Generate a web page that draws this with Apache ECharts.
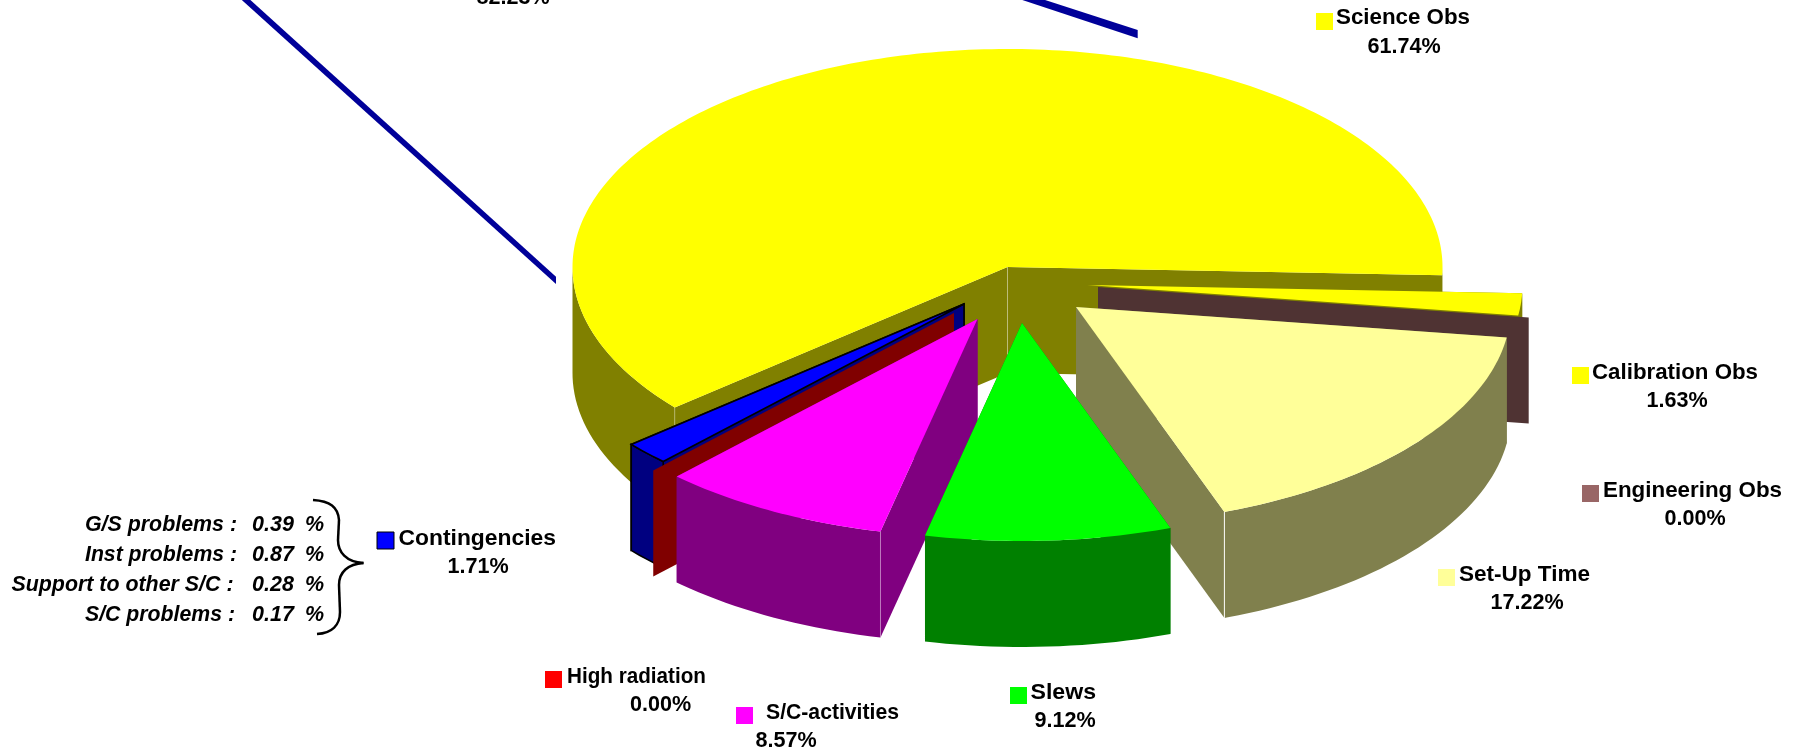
<!DOCTYPE html>
<html>
<head>
<meta charset="utf-8">
<style>html,body{margin:0;padding:0;background:#fff;overflow:hidden}#c{width:1800px;height:752px}</style>
<script src="https://cdn.jsdelivr.net/npm/echarts@6/dist/echarts.min.js"></script>
</head>
<body>
<div id="c"></div>
<script>
// ---- values ----
const categories = ['Science Obs','Calibration Obs','Engineering Obs','Set-Up Time','Slews','S/C-activities','High radiation','Contingencies'];
const percents   = [61.74, 1.63, 0.00, 17.22, 9.12, 8.57, 0.00, 1.71];
const contingencyParts  = ['G/S problems :','Inst problems :','Support to other S/C :','S/C problems :'];
const contingencyValues = [0.39, 0.87, 0.28, 0.17];
const upperPercent = 82.23;

// ---- styles ----
const topColors  = ['#ffff00','#ffff00','#996666','#ffff99','#00ff00','#ff00ff','#ff0000','#0000ff'];
const wallColors = ['#808000','#808000','#4f3333','#80804d','#008000','#800080','#800000','#000080'];

// ---- layout of the 3D pie ----
const pie = {cx:1007.5, cy:267, rx:435, ry:218, depth:106, start:139.9};
const explode = [[0,0],[80,18],[90.5,20],[68.5,40],[14.5,56],[-30,52],[-53.5,46],[-43.5,37]];
const drawOrder = [0,1,2,7,6,5,3,4];
const creases = {0:[['apex',.3],['a0',.3]],3:[['a1',.95]],5:[['a0',.3]]};
const outlined = {7:true};
// swatch x,y | name left,right,y | percent centre x,y
const labelLayout = [
  [1316,13, 1336,1470,18,  1404,47],
  [1572,367,1592,1758,373, 1677,401],
  [1582,485,1603,1782,491, 1695,519],
  [1438,569,1459,1590,575, 1527,603],
  [1010,687,1030.5,1096,693, 1065,721],
  [736,707, 766,899,713,   786,741],
  [545,671, 567,706,677,   660.5,705],
  [377,532, 398.5,556,539, 478,567]
];
const FONT = '"Liberation Sans", Arial, sans-serif';
const probe = document.createElement('canvas').getContext('2d');
function stretch(text, size, weight, style, target){
  probe.font = (style||'normal')+' '+weight+' '+size+'px "Liberation Sans"';
  return target / probe.measureText(text).width;
}

// angles follow the values
const total = percents.reduce((a,b)=>a+b,0);
const angles = []; let run = pie.start;
percents.forEach(p=>{
  let a0=run; run += p/total*360;
  let a1=run;
  if(a0>=360){ a0-=360; a1-=360; }
  angles.push([a0,a1]);
});

function rim(i, deg, dz){
  const r = deg*Math.PI/180;
  return [pie.cx+explode[i][0]+pie.rx*Math.cos(r), pie.cy+explode[i][1]+pie.ry*Math.sin(r)+(dz||0)];
}
function apex(i, dz){ return [pie.cx+explode[i][0], pie.cy+explode[i][1]+(dz||0)]; }

function renderSlice(params, api){
  const i = drawOrder[params.dataIndex];
  const [a0,a1] = angles[i], d = pie.depth;
  const kids = [];
  const stroke = outlined[i] ? {stroke:'#000',lineWidth:1.6} : {stroke:null};
  const wall = {fill:wallColors[i], ...stroke};
  const radial = a => ({type:'polygon',shape:{points:[apex(i),rim(i,a),rim(i,a,d),apex(i,d)]},style:wall});
  kids.push(radial(a0)); if(a1>a0) kids.push(radial(a1));
  if(a1>a0){
    // outer wall: only the front half of the ellipse is seen
    const ranges = a1>360 ? [[a0,180],[360,a1]] : [[a0,Math.min(a1,180)]];
    ranges.forEach(([s,e])=>{
      if(e<=s) return;
      const pts=[]; for(let a=s;a<e;a+=1.5) pts.push(rim(i,a)); pts.push(rim(i,e));
      const low=pts.map(p=>[p[0],p[1]+d]).reverse();
      kids.push({type:'polygon',shape:{points:pts.concat(low)},style:wall});
    });
    const top=[apex(i)]; for(let a=a0;a<a1;a+=1) top.push(rim(i,a)); top.push(rim(i,a1));
    kids.push({type:'polygon',shape:{points:top},style:{fill:topColors[i],...stroke}});
  }
  (creases[i]||[]).forEach(([w,o])=>{
    const p = w==='apex'?apex(i):rim(i,w==='a0'?a0:a1);
    kids.push({type:'line',shape:{x1:p[0],y1:p[1],x2:p[0],y2:p[1]+d},style:{stroke:'rgba(255,255,255,'+o+')',lineWidth:1}});
  });
  return {type:'group',children:kids};
}

function renderLabel(params, api){
  const i = params.dataIndex, L = labelLayout[i];
  const name = categories[i], pct = percents[i].toFixed(2)+'%';
  return {type:'group',children:[
    {type:'rect',shape:{x:L[0],y:L[1],width:17,height:17},
      style:{fill:topColors[i],stroke:outlined[i]?'#000':null,lineWidth:1}},
    {type:'text',x:L[2],y:L[4],scaleX:stretch(name,22,'bold','normal',L[3]-L[2]),
      style:{text:name,font:'bold 22px '+FONT,fill:'#000',align:'left',verticalAlign:'middle'}},
    {type:'text',x:L[5],y:L[6],scaleX:0.98,
      style:{text:pct,font:'bold 22px '+FONT,fill:'#000',align:'center',verticalAlign:'middle'}}
  ]};
}

// callout beside Contingencies, leader lines and the cropped upper percentage
const braceStyle = {fill:null,stroke:'#000',lineWidth:2.5};
const curve = (x1,y1,c1x,c1y,c2x,c2y,x2,y2)=>({type:'bezierCurve',shape:{x1,y1,cpx1:c1x,cpy1:c1y,cpx2:c2x,cpy2:c2y,x2,y2},style:braceStyle});
const graphics = [
  {type:'polygon',shape:{points:[[240.7,-1],[249.3,-1],[556,276.7],[556,284]]},style:{fill:'#000099'}},
  {type:'polygon',shape:{points:[[1019.3,-1],[1042,-1],[1137.7,30],[1137.7,38.3]]},style:{fill:'#000099'}},
  {type:'text',x:513,y:-2.5,scaleX:0.98,style:{text:upperPercent.toFixed(2)+'%',font:'bold 22px '+FONT,fill:'#000',align:'center',verticalAlign:'middle'}},
  curve(313,500,330,501,338,507,339,520),
  {type:'line',shape:{x1:339,y1:520,x2:338,y2:540},style:braceStyle},
  curve(338,540,338,552,346,562,363.5,563),
  curve(363.5,563,348,564,339,572,339,585),
  {type:'line',shape:{x1:339,y1:585,x2:340,y2:612},style:braceStyle},
  curve(340,612,340,625,332,633,317,634)
];
const partRights = [237,237,233.5,235];
const partLefts  = [85,85,11.5,85];
contingencyParts.forEach((t,k)=>{
  const y = 525+k*30;
  graphics.push({type:'text',x:partLefts[k],y:y,scaleX:stretch(t,21.5,'bold','italic',partRights[k]-partLefts[k]),
    style:{text:t,font:'italic bold 21.5px '+FONT,fill:'#000',align:'left',verticalAlign:'middle'}});
  graphics.push({type:'text',x:252,y:y,style:{text:contingencyValues[k].toFixed(2),font:'italic bold 21.5px '+FONT,fill:'#000',align:'left',verticalAlign:'middle'}});
  graphics.push({type:'text',x:305,y:y,style:{text:'%',font:'italic bold 21.5px '+FONT,fill:'#000',align:'left',verticalAlign:'middle'}});
});

const chart = echarts.init(document.getElementById('c'),null,{renderer:'canvas',width:1800,height:752});
chart.setOption({
  animation:false,
  backgroundColor:'#ffffff',
  graphic:{elements:graphics},
  series:[
    {type:'custom',name:'slices',coordinateSystem:'none',renderItem:renderSlice,silent:true,z:2,
     data:drawOrder.map(i=>({name:categories[i],value:[percents[i]]}))},
    {type:'custom',name:'labels',coordinateSystem:'none',renderItem:renderLabel,silent:true,z:3,
     data:categories.map((c,i)=>({name:c,value:[percents[i]]}))}
  ]
});
</script>
</body>
</html>
